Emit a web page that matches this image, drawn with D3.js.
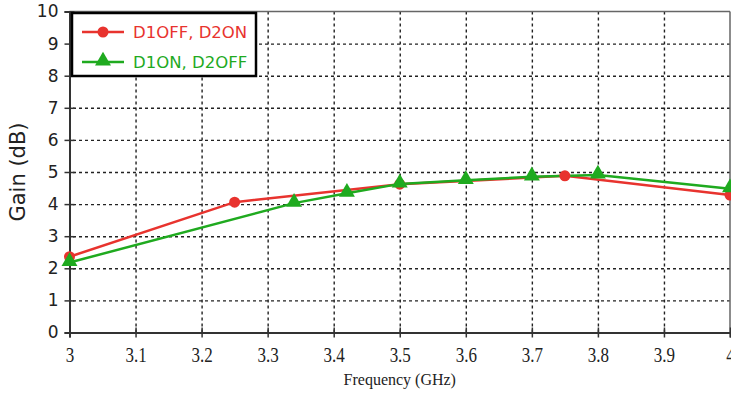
<!DOCTYPE html>
<html>
<head>
<meta charset="utf-8">
<script src="https://cdn.jsdelivr.net/npm/d3@7"></script>
<style>
  body { margin: 0; background: #fff; }
  .grid line { stroke: #222; stroke-dasharray: 3,3; stroke-width: 1.4; }
  .grid path { display: none; }
  .ytick text { font-family: "DejaVu Sans", sans-serif; font-size: 17px; fill: #222; }
  .xtick text { font-family: "Liberation Serif", serif; font-size: 20px; fill: #222; }
</style>
</head>
<body>
<div id="chart"></div>
<script>
// series data
const redFreq = [3, 3.25, 3.5, 3.75, 4];
const redGain = [2.36, 4.06, 4.62, 4.88, 4.28];
const greenFreq = [3, 3.34, 3.42, 3.5, 3.6, 3.7, 3.8, 4];
const greenGain = [2.18, 4.03, 4.34, 4.63, 4.74, 4.85, 4.91, 4.48];
const xTicks = [3, 3.1, 3.2, 3.3, 3.4, 3.5, 3.6, 3.7, 3.8, 3.9, 4];
const yTicks = [0, 1, 2, 3, 4, 5, 6, 7, 8, 9, 10];
const seriesNames = ['D1OFF, D2ON', 'D1ON, D2OFF'];

const width = 731, height = 396;
const margin = { top: 11.5, right: 1, bottom: 63.5, left: 69.5 };
const w = width - margin.left - margin.right;
const h = height - margin.top - margin.bottom;

const svg = d3.select('#chart').append('svg')
  .attr('width', width).attr('height', height);
const g = svg.append('g').attr('transform', `translate(${margin.left},${margin.top})`);

const x = d3.scaleLinear().domain([3, 4]).range([0, w]);
const y = d3.scaleLinear().domain([0, 10]).range([h, 0]);

// dashed grid
g.append('g').attr('class', 'grid')
  .call(d3.axisBottom(x).tickValues(xTicks.slice(1, -1)).tickSize(h).tickFormat(''));
g.append('g').attr('class', 'grid')
  .attr('transform', `translate(${w},0)`)
  .call(d3.axisLeft(y).tickValues(yTicks.slice(1, -1)).tickSize(w).tickFormat(''));

// frame: top + right thin grey, left + bottom dark
g.append('line').attr('x1', 0).attr('x2', w).attr('y1', 0).attr('y2', 0)
  .attr('stroke', '#666').attr('stroke-width', 1.5);
g.append('line').attr('x1', w).attr('x2', w).attr('y1', 0).attr('y2', h)
  .attr('stroke', '#666').attr('stroke-width', 1.5);

// axes with ticks crossing the axis line
const yAxis = g.append('g').attr('class', 'ytick')
  .call(d3.axisLeft(y).tickValues(yTicks).tickSize(5).tickPadding(6));
yAxis.selectAll('.tick line').attr('x2', 5).attr('x1', -5).attr('stroke', '#333').attr('stroke-width', 1.5);
yAxis.select('.domain').attr('stroke', '#333').attr('stroke-width', 2);

const xAxis = g.append('g').attr('class', 'xtick')
  .attr('transform', `translate(0,${h})`)
  .call(d3.axisBottom(x).tickValues(xTicks).tickFormat(d3.format('')).tickSize(5).tickPadding(10));
xAxis.selectAll('.tick line').attr('y1', -5).attr('y2', 5).attr('stroke', '#333').attr('stroke-width', 1.5);
xAxis.select('.domain').attr('stroke', '#333').attr('stroke-width', 2);
xAxis.selectAll('.tick text').attr('transform', 'scale(0.85,1)').attr('x', 0);

// axis titles
svg.append('text')
  .attr('transform', `translate(25,${margin.top + h / 2}) rotate(-90)`)
  .attr('text-anchor', 'middle')
  .style('font-family', '"DejaVu Sans", sans-serif').style('font-size', '21px').attr('fill', '#222')
  .text('Gain (dB)');
svg.append('text')
  .attr('x', margin.left + w / 2).attr('y', 385)
  .attr('text-anchor', 'middle')
  .style('font-family', '"Liberation Serif", serif').style('font-size', '16px').attr('fill', '#222')
  .text('Frequency (GHz)');

// lines
const red = '#e8332e', green = '#1faa1f';
const line = d3.line().x(d => x(d[0])).y(d => y(d[1]));
const redData = redFreq.map((f, i) => [f, redGain[i]]);
const greenData = greenFreq.map((f, i) => [f, greenGain[i]]);

g.append('path').datum(redData).attr('d', line)
  .attr('fill', 'none').attr('stroke', red).attr('stroke-width', 2.5);
g.append('path').datum(greenData).attr('d', line)
  .attr('fill', 'none').attr('stroke', green).attr('stroke-width', 2.5);

g.selectAll('.rdot').data(redData).enter().append('circle')
  .attr('cx', d => x(d[0])).attr('cy', d => y(d[1])).attr('r', 5.5).attr('fill', red);
const tri = d3.symbol().type(d3.symbolTriangle).size(110);
g.selectAll('.gtri').data(greenData).enter().append('path')
  .attr('d', tri).attr('transform', d => `translate(${x(d[0])},${y(d[1]) - 1})`).attr('fill', green);

// legend
const lg = svg.append('g').attr('transform', 'translate(72,13)');
lg.append('rect').attr('width', 184).attr('height', 63)
  .attr('fill', '#fff').attr('stroke', '#000').attr('stroke-width', 2.5);
[[red, 'circle'], [green, 'triangle']].forEach((s, i) => {
  const yy = 19 + i * 30;
  lg.append('line').attr('x1', 10).attr('x2', 52).attr('y1', yy).attr('y2', yy)
    .attr('stroke', s[0]).attr('stroke-width', 2.5);
  if (s[1] === 'circle') {
    lg.append('circle').attr('cx', 31).attr('cy', yy).attr('r', 5.5).attr('fill', s[0]);
  } else {
    lg.append('path').attr('d', tri).attr('transform', `translate(31,${yy - 1})`).attr('fill', s[0]);
  }
  lg.append('text').attr('x', 61).attr('y', yy + 6)
    .style('font-family', '"DejaVu Sans", sans-serif').style('font-size', '16.5px')
    .attr('fill', s[0]).text(seriesNames[i]);
});
</script>
</body>
</html>
